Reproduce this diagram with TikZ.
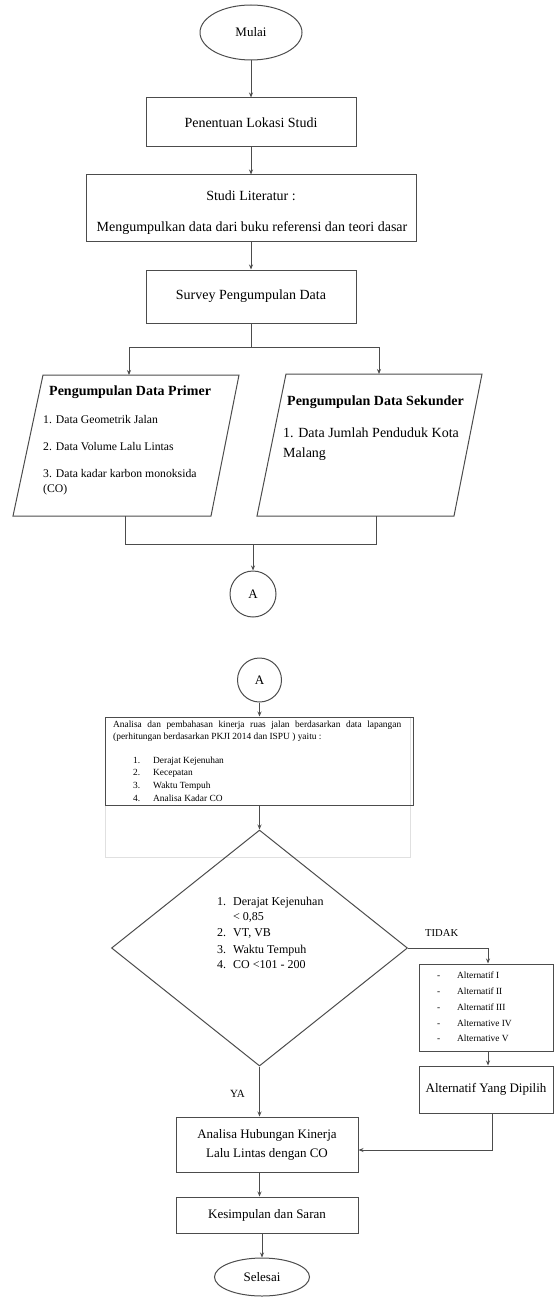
\documentclass[tikz,border=0pt]{standalone}
\usepackage{fontspec}
\setmainfont{Liberation Serif}
\usetikzlibrary{shapes.geometric,arrows.meta}
\begin{document}
\begin{tikzpicture}[x=1pt,y=-1pt,
  boxline/.style={draw=black!70,line width=1pt},
  box/.style={boxline,rectangle,inner sep=0pt,align=center,font=\fontsize{14}{17}\selectfont},
  term/.style={boxline,ellipse,inner sep=0pt,font=\fontsize{13}{16}\selectfont},
  conn/.style={draw=black!70,line width=0.8pt},
  arr/.style={conn,-{Stealth[length=5pt,width=4pt]}},
  txt/.style={inner sep=0pt,anchor=west,execute at begin node=\strut},
  t14/.style={txt,font=\fontsize{14}{17}\selectfont},
  t12/.style={txt,font=\fontsize{11.7}{14}\selectfont},
  dtx/.style={txt,font=\fontsize{12}{14}\selectfont},
  t9/.style={txt,font=\fontsize{9.4}{11}\selectfont},
]
\useasboundingbox (0,0) rectangle (555,1297);

% ---------- part 1 ----------
\node[term,minimum width=102,minimum height=55] (mulai) at (251,32.5) {Mulai};
\node[box,minimum width=210,minimum height=49] (lokasi) at (251,122.5) {Penentuan Lokasi Studi};
\node[box,minimum width=330,minimum height=67] (lit) at (251,208.5) {};
\node[inner sep=0pt,font=\fontsize{14}{17}\selectfont] (lit1) at (251,196) {Studi Literatur :};
\node[inner sep=0pt,font=\fontsize{14}{17}\selectfont] (lit2) at (252,228) {Mengumpulkan data dari buku referensi dan teori dasar};
\node[box,minimum width=210,minimum height=53] (survey) at (251,296.5) {Survey Pengumpulan Data};

\draw[arr] (mulai.south) -- (mulai.south |- lokasi.north);
\draw[arr] (lokasi.south) -- (lit.north);
\draw[arr] (lit.south) -- (survey.north);

\coordinate (br) at (251,347);
\coordinate (brL) at (129,347);
\coordinate (brR) at (379,347);

% parallelograms
\draw[boxline] (43,375) coordinate (p1) -- (239,375) coordinate (p2) -- (211,516) coordinate (p3) -- (13,516) coordinate (p4) -- cycle;
\draw[boxline] (286,374) coordinate (s1) -- (482,374) coordinate (s2) -- (454,516) coordinate (s3) -- (257,516) coordinate (s4) -- cycle;

\draw[conn] (survey.south) -- (br);
\draw[conn] (brL) -- (brR);
\draw[arr] (brL) -- (brL |- p1);
\draw[arr] (brR) -- (brR |- s1);

\node[t14,font=\bfseries\fontsize{14}{17}\selectfont] (ptitle) at (49,392) {Pengumpulan Data Primer};
\node[t12] (pi1) at (43,421) {1. Data Geometrik Jalan};
\node[t12] (pi2) at (43,448) {2. Data Volume Lalu Lintas};
\node[t12] (pi3) at (43,475) {3. Data kadar karbon monoksida};
\node[t12] (pi4) at (43,490) {(CO)};

\node[t14,font=\bfseries\fontsize{14}{17}\selectfont] (stitle) at (287,402) {Pengumpulan Data Sekunder};
\node[t14] (si1) at (283,434) {1. Data Jumlah Penduduk Kota};
\node[t14] (si2) at (283,454) {Malang};

\coordinate (pbot) at (125,516);
\coordinate (sbot) at (376,516);
\coordinate (jn) at (253,544);
\draw[conn] (pbot) -- (pbot |- jn) -- (sbot |- jn) -- (sbot);

\node[term,circle,minimum size=46] (A1) at (253,594) {A};
\draw[arr] (jn) -- (A1.north);

% ---------- part 2 ----------
\node[term,circle,minimum size=44] (A2) at (259.5,680) {A};
\draw[draw=black!12,line width=0.8pt] (105,717) rectangle (410,857);
\node[box,minimum width=308,minimum height=88] (anal) at (259,761) {};
\draw[arr] (A2.south) -- (A2.south |- anal.north);

\node[t9] (a1) at (113,725) {\makebox[288pt][s]{Analisa dan pembahasan kinerja ruas jalan berdasarkan data lapangan}};
\node[t9] (a2) at (113,737) {(perhitungan berdasarkan PKJI 2014 dan ISPU ) yaitu :};
\node[t9] (an1) at (133,761) {1.};
\node[t9] (ai1) at (153,761) {Derajat Kejenuhan};
\node[t9] (an2) at (133,773) {2.};
\node[t9] (ai2) at (153,773) {Kecepatan};
\node[t9] (an3) at (133,786) {3.};
\node[t9] (ai3) at (153,786) {Waktu Tempuh};
\node[t9] (an4) at (133,799) {4.};
\node[t9] (ai4) at (153,799) {Analisa Kadar CO};

\node[boxline,diamond,minimum width=296,minimum height=236,inner sep=0pt] (dia) at (259.5,948) {};
\draw[arr] (dia.north |- anal.south) -- (dia.north);

\node[dtx] (dn1) at (217,903) {1.};
\node[dtx] (di1) at (233,903) {Derajat Kejenuhan};
\node[dtx] (di1b) at (233,918) {< 0,85};
\node[dtx] (dn2) at (217,934) {2.};
\node[dtx] (di2) at (233,934) {VT, VB};
\node[dtx] (dn3) at (217,951) {3.};
\node[dtx] (di3) at (233,951) {Waktu Tempuh};
\node[dtx] (dn4) at (217,966) {4.};
\node[dtx] (di4) at (233,966) {CO <101 - 200};

% alternatives
\node[box,minimum width=134,minimum height=87] (alt) at (486,1007.5) {};
\node[box,minimum width=134,minimum height=47,font=\fontsize{13}{16}\selectfont] (pil) at (486,1089.5) {Alternatif Yang Dipilih};
\node[txt,font=\fontsize{10.6}{12}\selectfont] (tidak) at (425,934) {TIDAK};
\draw[arr] (dia.east) -| ([xshift=2pt]alt.north);
\draw[arr] ([xshift=2pt]alt.south) -- ([xshift=2pt]pil.north);
\foreach \yy/\lab [count=\i] in {976/Alternatif I,992/Alternatif II,1008/Alternatif III,1024/Alternative IV,1039/Alternative V}{
  \node[t9] (ad\i) at (437,\yy) {-};
  \node[t9] (al\i) at (457,\yy) {\lab};
}

% bottom
\node[box,minimum width=182,minimum height=55,font=\fontsize{13}{19}\selectfont] (hub) at (267,1144.5) {Analisa Hubungan Kinerja\\Lalu Lintas dengan CO};
\node[box,minimum width=182,minimum height=36,font=\fontsize{13}{16}\selectfont] (kes) at (267,1215) {Kesimpulan dan Saran};
\node[term,minimum width=95,minimum height=38] (sel) at (262,1277) {Selesai};

\node[txt,font=\fontsize{11}{13}\selectfont] (ya) at (230,1095) {YA};
\draw[arr] (dia.south) -- (dia.south |- hub.north);
\coordinate (elb) at (492,1150);
\draw[arr] (pil.south -| elb) -- (elb) -- (elb -| hub.east);
\draw[arr] (hub.south -| dia.south) -- (kes.north -| dia.south);
\draw[arr] (kes.south -| sel.north) -- (sel.north);
\end{tikzpicture}
\end{document}
